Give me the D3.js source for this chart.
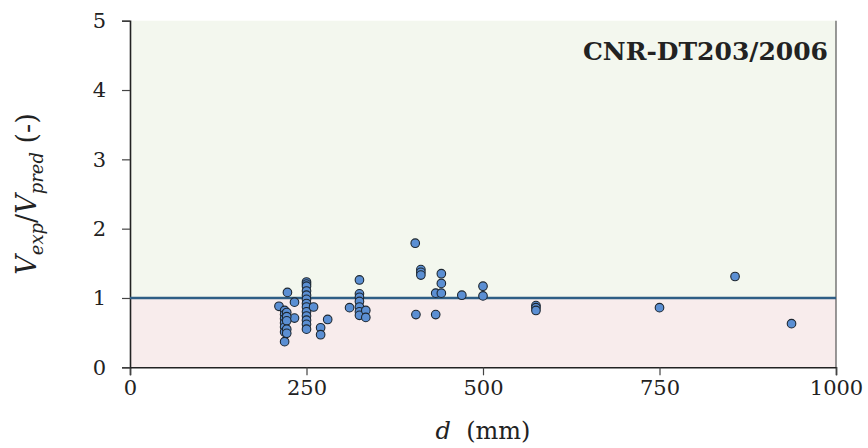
<!DOCTYPE html>
<html>
<head>
<meta charset="utf-8">
<script src="https://cdn.jsdelivr.net/npm/d3@7"></script>
<style>
  body { margin: 0; background: #fff; }
  svg text { font-family: "DejaVu Serif", "Liberation Serif", serif; fill: #222; }
</style>
</head>
<body>
<div id="chart"></div>
<script>
// d (mm) of every specimen
var depth = [
  211, 223, 233, 233,
  219, 219, 219, 219, 219, 219, 219,
  222, 222, 222, 222, 222,
  250, 250, 250, 250, 250, 250, 250, 250, 250, 250, 250, 250, 250,
  260, 270, 270, 280,
  311, 325, 325, 325, 325, 325, 325, 325, 334, 334,
  404, 412, 412, 412, 441, 441, 433, 441, 470, 500, 500, 405, 433,
  575, 575, 575, 750, 857, 937
];
// Vexp / Vpred
var ratio = [
  0.88, 1.08, 0.94, 0.71,
  0.82, 0.76, 0.70, 0.64, 0.58, 0.51, 0.37,
  0.79, 0.73, 0.67, 0.55, 0.49,
  1.23, 1.20, 1.17, 1.10, 1.04, 0.98, 0.92, 0.87, 0.80, 0.74, 0.68, 0.62, 0.55,
  0.87, 0.57, 0.47, 0.69,
  0.86, 1.26, 1.06, 1.01, 0.95, 0.87, 0.80, 0.75, 0.82, 0.72,
  1.79, 1.41, 1.37, 1.33, 1.35, 1.21, 1.07, 1.07, 1.04, 1.17, 1.03, 0.76, 0.76,
  0.89, 0.86, 0.82, 0.86, 1.31, 0.63
];
var xTicks = [0, 250, 500, 750, 1000];
var yTicks = [0, 1, 2, 3, 4, 5];
var title = 'CNR-DT203/2006';

var width = 868,
    height = 448,
    margin = { top: 20.7, right: 32, bottom: 80.7, left: 130 };
var plotW = width - margin.left - margin.right,
    plotH = height - margin.top - margin.bottom;

var svg = d3.select('#chart')
    .append('svg')
        .attr('width', width)
        .attr('height', height);

var x = d3.scaleLinear().domain([0, 1000]).range([0, plotW]);
var y = d3.scaleLinear().domain([0, 5]).range([plotH, 0]);

var g = svg.append('g')
    .attr('transform', 'translate(' + margin.left + ',' + margin.top + ')');

// safe / unsafe zones
g.append('rect')
    .attr('x', 0)
    .attr('y', y(5))
    .attr('width', plotW)
    .attr('height', y(1) - y(5))
    .attr('fill', '#f3f7ee');
g.append('rect')
    .attr('x', 0)
    .attr('y', y(1))
    .attr('width', plotW)
    .attr('height', y(0) - y(1))
    .attr('fill', '#f8ecec');

// right border
g.append('line')
    .attr('x1', plotW).attr('x2', plotW)
    .attr('y1', 0).attr('y2', plotH)
    .attr('stroke', '#555')
    .attr('stroke-width', 1.2);

// axes
var xAxis = g.append('g')
    .attr('transform', 'translate(0,' + plotH + ')')
    .call(d3.axisBottom(x).tickValues(xTicks).tickFormat(d3.format('d'))
        .tickSize(8).tickPadding(5));
var yAxis = g.append('g')
    .call(d3.axisLeft(y).tickValues(yTicks).tickFormat(d3.format('d'))
        .tickSize(8).tickPadding(16));

[xAxis, yAxis].forEach(function(a) {
  a.select('.domain').attr('stroke', '#222').attr('stroke-width', 1.6);
  a.selectAll('.tick line').attr('stroke', '#444').attr('stroke-width', 1.2);
  a.selectAll('.tick text')
      .style('font-size', '21px')
      .style('font-family', '"DejaVu Serif", serif')
      .attr('fill', '#222');
});

// Vexp = Vpred line
g.append('line')
    .attr('x1', 0).attr('x2', plotW)
    .attr('y1', y(1)).attr('y2', y(1))
    .attr('stroke', '#2e5e85')
    .attr('stroke-width', 2.4);

// points
g.append('g')
    .selectAll('circle')
    .data(depth.map(function(d, i) { return [d, ratio[i]]; }))
    .enter()
    .append('circle')
        .attr('cx', function(d) { return x(d[0]); })
        .attr('cy', function(d) { return y(d[1]); })
        .attr('r', 4.3)
        .attr('fill', '#5b8fd3')
        .attr('stroke', '#1c2630')
        .attr('stroke-width', 1.1);

// title
g.append('text')
    .attr('x', plotW - 8)
    .attr('y', 39.5)
    .style('text-anchor', 'end')
    .style('font-size', '25px')
    .style('font-weight', 'bold')
    .text(title);

// x label
var xl = svg.append('text')
    .attr('x', margin.left + x(500))
    .attr('y', 439)
    .style('text-anchor', 'middle')
    .style('font-size', '24px');
xl.append('tspan').style('font-style', 'italic').text('d');
xl.append('tspan').text('\u00a0 (mm)');

// y label
var yl = svg.append('text')
    .attr('transform', 'translate(36,' + (margin.top + y(2.5)) + ') rotate(-90)')
    .style('text-anchor', 'middle')
    .style('font-size', '27px');
yl.append('tspan').style('font-style', 'italic').text('V');
yl.append('tspan').style('font-style', 'italic').style('font-size', '18px')
    .attr('dy', 7).text('exp');
yl.append('tspan').attr('dy', -7).text('/');
yl.append('tspan').style('font-style', 'italic').text('V');
yl.append('tspan').style('font-style', 'italic').style('font-size', '18px')
    .attr('dy', 7).text('pred');
yl.append('tspan').attr('dy', -7).text('\u00a0(-)');
</script>
</body>
</html>
